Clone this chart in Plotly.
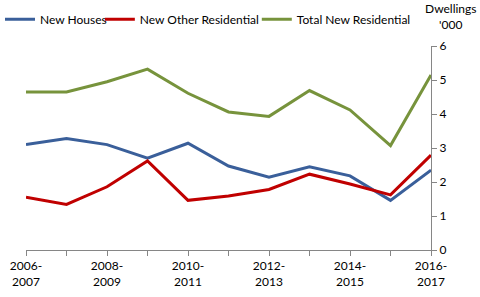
import plotly.graph_objects as go

years = ["2006-2007", "2007-2008", "2008-2009", "2009-2010", "2010-2011", "2011-2012",
         "2012-2013", "2013-2014", "2014-2015", "2015-2016", "2016-2017"]
new_houses = [3.10, 3.28, 3.10, 2.70, 3.14, 2.47, 2.14, 2.45, 2.18, 1.46, 2.35]
new_other = [1.55, 1.34, 1.86, 2.62, 1.46, 1.59, 1.78, 2.23, 1.94, 1.62, 2.79]
total_new = [4.65, 4.65, 4.95, 5.32, 4.61, 4.06, 3.93, 4.69, 4.12, 3.07, 5.15]

tick_text = [y.replace("-", "-<br>") if i % 2 == 0 else "" for i, y in enumerate(years)]

series = [
    ("New Houses", new_houses, "#3A5F9A", "legend", 0.0),
    ("New Other Residential", new_other, "#C00000", "legend2", 0.208),
    ("Total New Residential", total_new, "#77933C", "legend3", 0.535),
]

fig = go.Figure()
legends = {}
for name, vals, col, leg, lx in series:
    fig.add_trace(go.Scatter(x=years, y=vals, name=name, mode="lines", legend=leg,
                             line=dict(color=col, width=3)))
    legends[leg] = dict(orientation="h", xref="container", yref="container", x=lx,
                        y=0.935, xanchor="left", yanchor="middle", font=dict(size=12),
                        bgcolor="rgba(0,0,0,0)")

fig.update_layout(
    width=480, height=297,
    margin=dict(l=26, r=49, t=46, b=47, autoexpand=False),
    paper_bgcolor="white", plot_bgcolor="white",
    font=dict(family="Lato, Liberation Sans, sans-serif", size=12, color="black"),
    showlegend=True,
    xaxis=dict(range=[0, 10], tickvals=years, ticktext=tick_text, showline=True,
               linecolor="#868686", ticks="outside", tickcolor="#868686", ticklen=5,
               showgrid=False, zeroline=False, tickangle=0, automargin=False),
    yaxis=dict(side="right", range=[0, 6], dtick=1, showline=True, linecolor="#868686",
               ticks="outside", tickcolor="#868686", ticklen=5, showgrid=False,
               zeroline=False, automargin=False),
    **legends,
)
fig.add_annotation(text="Dwellings<br>'000", xref="paper", yref="paper", x=1.116, y=1.06,
                   xanchor="right", yanchor="bottom", showarrow=False,
                   font=dict(size=12))

# drop the default 8px page margin so the 480x297 figure fills the window
fig.write_html("out.html", config={"displayModeBar": False},
               post_script="document.body.style.margin='0';")
